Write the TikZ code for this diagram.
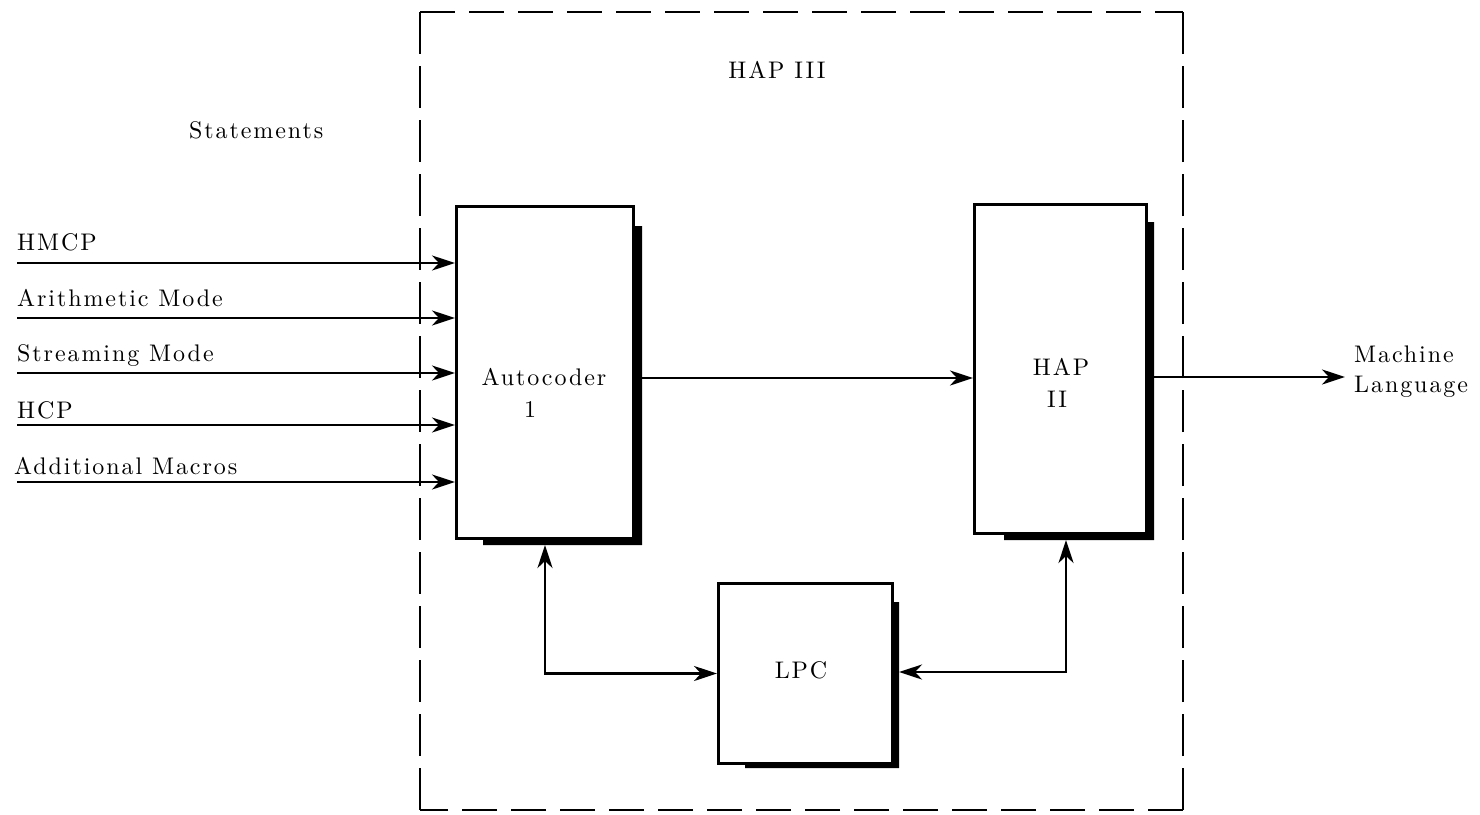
\documentclass[tikz,border=0pt]{standalone}
\usepackage{fontspec}
\newfontfamily\lblfont{lmroman10-regular.otf}[LetterSpace=8]
\usetikzlibrary{arrows.meta}
\begin{document}
\begin{tikzpicture}[x=1pt,y=-1pt,
  lbl/.style={font=\lblfont\fontsize{24}{29}\selectfont, inner sep=0pt},
  box/.style={draw, line width=3pt, fill=white, inner sep=0pt},
  shadowbar/.style={fill=black},
  tip/.tip={Stealth[length=23pt,width=15pt,inset=7pt]},
  arr/.style={line width=2.8pt, -tip},
  darr/.style={line width=2.8pt, tip-tip},
  hborder/.style={line width=2.8pt, dash pattern=on 35pt off 14pt},
  vborder/.style={line width=2.8pt, dash pattern=on 42pt off 12pt}]
\useasboundingbox (0,0) rectangle (1480,814);
% dashed HAP III frame
\coordinate (ftl) at (420,12);
\coordinate (ftr) at (1183,12);
\coordinate (fbl) at (420,810);
\coordinate (fbr) at (1183,810);
\draw[hborder] (ftl) -- (ftr);
\draw[hborder] (fbr) -- (fbl);
\draw[vborder] (ftl) -- (fbl);
\draw[vborder] (fbr) -- (ftr);
\node[lbl, anchor=base] (hap3) at (777,78) {HAP III};
\node[lbl, anchor=base west] (stmts) at (189,138) {Statements};
% shadows
\fill[shadowbar] (632,226) -- (642,226) -- (642,545) -- (483,545) -- (483,537) -- (632,537) -- cycle;
\fill[shadowbar] (1145,222) -- (1154,222) -- (1154,540) -- (1004,540) -- (1004,532) -- (1145,532) -- cycle;
\fill[shadowbar] (891,602) -- (899,602) -- (899,768) -- (745,768) -- (745,762) -- (891,762) -- cycle;
% boxes
\node[box, anchor=north west, minimum width=177pt, minimum height=332pt] (auto) at (455,205) {};
\node[box, anchor=north west, minimum width=172pt, minimum height=329pt] (hap2) at (973,203) {};
\node[box, anchor=north west, minimum width=174pt, minimum height=180pt] (lpc) at (717,582) {};
\node[lbl, anchor=base] (autot1) at (544,385) {Autocoder};
\node[lbl, anchor=base] (autot2) at (530,417) {1};
\node[lbl, anchor=base] (hapt1) at (1061,375) {HAP};
\node[lbl, anchor=base] (hapt2) at (1057,407) {II};
\node[lbl, anchor=base] (lpct) at (801,678) {LPC};
% inputs
\foreach \name/\txt/\ly/\ay/\lx in {in1/HMCP/250/263/17, in2/Arithmetic Mode/306/318/17, in3/Streaming Mode/361/373/17, in4/HCP/418/425/17, in5/Additional Macros/474/482/14}{
  \node[lbl, anchor=base west] (l\name) at (\lx,\ly) {\txt};
  \coordinate (\name) at (17,\ay);
  \draw[arr] (\name) -- (\name -| auto.west);
}
% main flow
\coordinate (autoout) at (642,378);
\draw[arr] (autoout) -- (autoout -| hap2.west);
\coordinate (hapout) at (1154,377);
\coordinate (mlend) at (1345,377);
\draw[arr] (hapout) -- (mlend);
\node[lbl, anchor=base west] (ml1) at (1354,362) {Machine};
\node[lbl, anchor=base west] (ml2) at (1354,392) {Language};
% LPC links
\coordinate (aup) at (545,545);
\coordinate (hup) at (1066,540);
\coordinate (lpcr) at (899,672);
\draw[darr] (aup) |- (lpc.west);
\draw[darr] (hup) |- (lpcr);
\end{tikzpicture}
\end{document}
